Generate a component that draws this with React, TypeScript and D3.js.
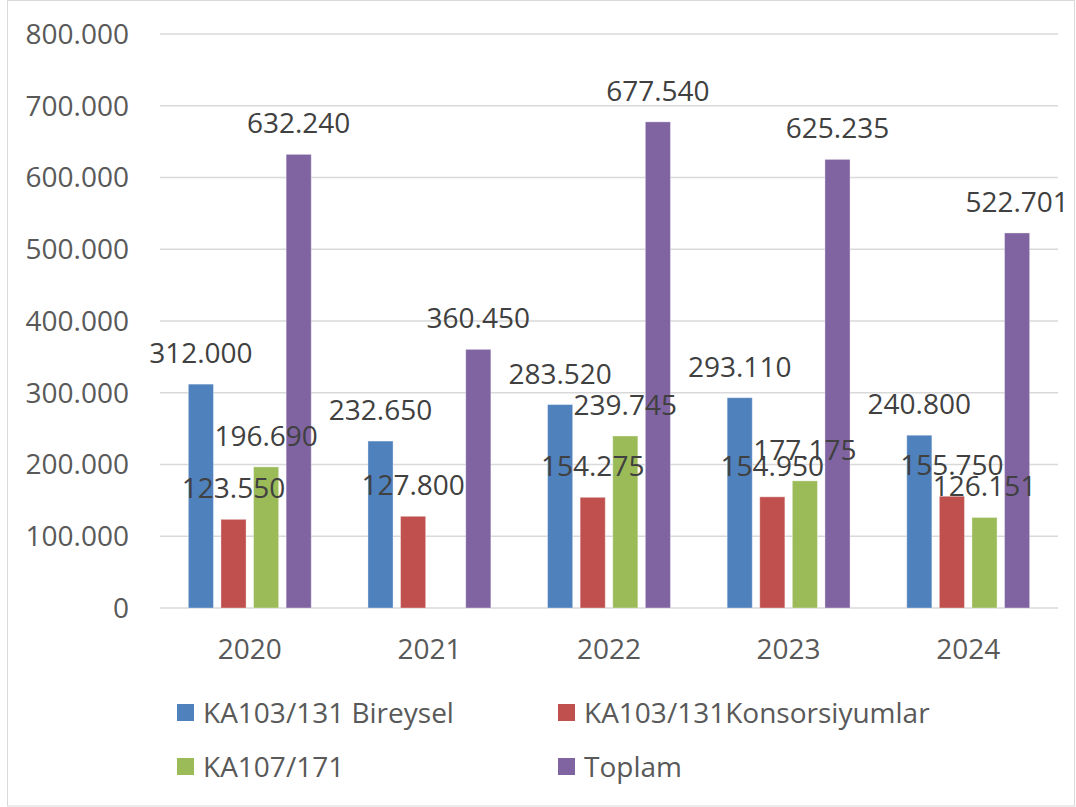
import { useMemo } from "react";
import * as d3 from "d3";

const years = ["2020", "2021", "2022", "2023", "2024"];
const seriesNames = [
  "KA103/131 Bireysel",
  "KA103/131Konsorsiyumlar",
  "KA107/171",
  "Toplam",
];
const colors = ["#4f81bd", "#c0504d", "#9bbb59", "#8064a2"];

// values per year, one array per series (null = no bar)
const bireysel = [312000, 232650, 283520, 293110, 240800];
const konsorsiyum = [123550, 127800, 154275, 154950, 155750];
const ka107 = [196690, null, 239745, 177175, 126151];
const toplam = [632240, 360450, 677540, 625235, 522701];
const seriesValues = [bireysel, konsorsiyum, ka107, toplam];

const yTicks = [0, 100000, 200000, 300000, 400000, 500000, 600000, 700000, 800000];

const W = 1076;
const H = 807;
const font = "'Open Sans', 'Noto Sans', sans-serif";

const fmt = (v: number) =>
  v === 0 ? "0" : d3.format(",")(v).replace(/,/g, ".");

export default function App() {
  const x = useMemo(
    () => d3.scaleBand<string>().domain(years).range([160, 1058]).padding(0),
    []
  );
  const inner = useMemo(
    () =>
      d3
        .scaleBand<string>()
        .domain(seriesNames)
        .range([0, x.bandwidth()])
        .paddingInner(0.23)
        .paddingOuter(0.87),
    [x]
  );
  const y = useMemo(
    () => d3.scaleLinear().domain([0, 800000]).range([608, 34]),
    []
  );

  return (
    <div style={{ position: "absolute", left: 0, top: 0 }}>
      <svg width={W} height={H} style={{ display: "block", background: "#fff" }}>
        <rect x={7.5} y={0.5} width={W - 9} height={H - 1.5} fill="#fff" stroke="#d9d9d9" />

        {/* gridlines + y labels */}
        {yTicks.map((t) => (
          <g key={t}>
            <line x1={160} x2={1058} y1={y(t)} y2={y(t)} stroke="#d9d9d9" strokeWidth={1.5} />
            <text
              x={129}
              y={y(t)}
              dy="0.35em"
              textAnchor="end"
              fontFamily={font}
              fontSize={28}
              fill="#595959"
            >
              {fmt(t)}
            </text>
          </g>
        ))}

        {/* bars */}
        {seriesNames.map((s, si) =>
          years.map((yr, i) => {
            const v = seriesValues[si][i];
            if (v == null) return null;
            const bx = (x(yr) ?? 0) + (inner(s) ?? 0);
            return (
              <rect
                key={s + yr}
                x={bx}
                y={y(v)}
                width={inner.bandwidth()}
                height={y(0) - y(v)}
                fill={colors[si]}
                stroke="#ffffff"
                strokeOpacity={0.35}
                strokeWidth={1}
              />
            );
          })
        )}

        {/* data labels */}
        {seriesNames.map((s, si) =>
          years.map((yr, i) => {
            const v = seriesValues[si][i];
            if (v == null) return null;
            const cx = (x(yr) ?? 0) + (inner(s) ?? 0) + inner.bandwidth() / 2;
            return (
              <text
                key={"l" + s + yr}
                x={cx}
                y={y(v) - 21}
                textAnchor="middle"
                fontFamily={font}
                fontSize={28}
                fill="#404040"
              >
                {fmt(v)}
              </text>
            );
          })
        )}

        {/* x labels */}
        {years.map((yr) => (
          <text
            key={yr}
            x={(x(yr) ?? 0) + x.bandwidth() / 2}
            y={659}
            textAnchor="middle"
            fontFamily={font}
            fontSize={28}
            fill="#595959"
          >
            {yr}
          </text>
        ))}

        {/* legend */}
        {seriesNames.map((s, si) => {
          const lx = si % 2 === 0 ? 177 : 558;
          const ly = si < 2 ? 723 : 777;
          return (
            <g key={"lg" + s}>
              <rect x={lx} y={ly - 19} width={17} height={17} fill={colors[si]} />
              <text x={lx + 26} y={ly} fontFamily={font} fontSize={28} fill="#595959">
                {s}
              </text>
            </g>
          );
        })}
      </svg>
    </div>
  );
}
